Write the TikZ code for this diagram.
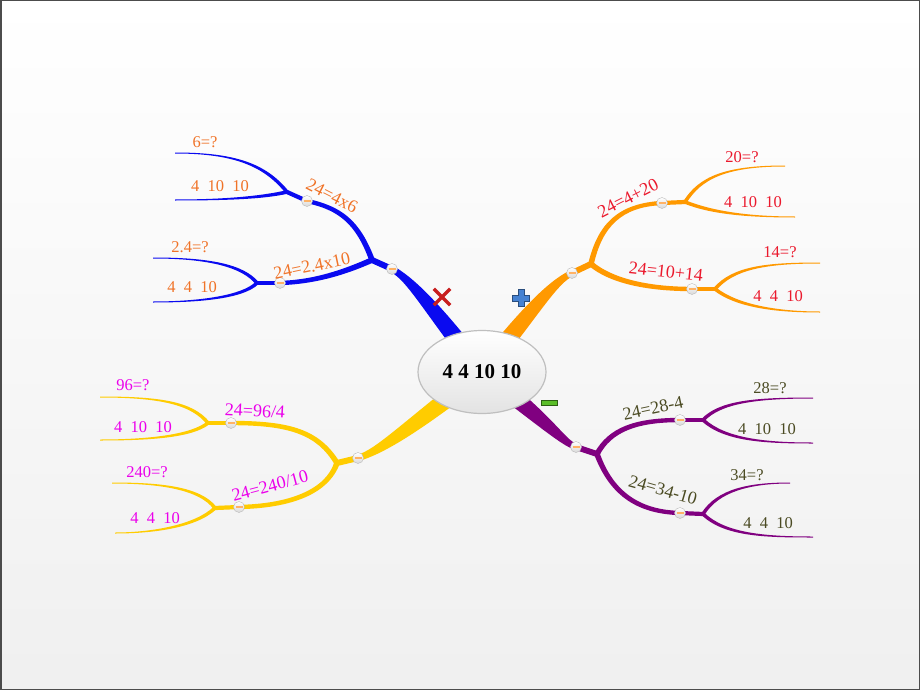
\documentclass[tikz,border=0pt]{standalone}
\usepackage{fontspec}
\setmainfont{Liberation Serif}
\usetikzlibrary{calc,shapes.geometric}

\definecolor{mmblue}{RGB}{10,10,240}
\definecolor{mmorange}{RGB}{255,153,0}
\definecolor{mmyellow}{RGB}{255,204,0}
\definecolor{mmpurple}{RGB}{128,0,128}
\definecolor{txtbrown}{RGB}{240,115,40}
\definecolor{txtred}{RGB}{235,25,45}
\definecolor{txtpink}{RGB}{235,0,235}
\definecolor{txtolive}{RGB}{75,75,35}
\definecolor{timesred}{RGB}{200,30,30}
\definecolor{plusblue}{RGB}{70,130,210}
\definecolor{minusgreen}{RGB}{90,190,40}

\newcommand{\taper}[7]{%
  \fill[#1] ($(#2)!#6!90:(#3)$) .. controls ($(#3)!#6!90:(#4)$) and ($(#4)!#7!-90:(#3)$) .. ($(#5)!#7!-90:(#4)$)
    -- ($(#5)!#7!90:(#4)$) .. controls ($(#4)!#7!90:(#3)$) and ($(#3)!#6!-90:(#4)$) .. ($(#2)!#6!-90:(#3)$) -- cycle;}

\begin{document}
\begin{tikzpicture}[x=1pt,y=-1pt,
  hub/.style={ellipse,draw=gray!50,line width=1.2pt,minimum width=128pt,minimum height=83pt,
    inner sep=0pt,top color=white,bottom color=gray!22,font=\fontsize{21}{24}\selectfont\bfseries},
  knob/.style={circle,draw=gray!55,inner sep=0pt,minimum size=11pt,top color=white,bottom color=gray!30,
    path picture={\draw[orange!60,line width=1.3pt] ([xshift=-3.5pt]path picture bounding box.center)
      -- ([xshift=3.5pt]path picture bounding box.center);}},
  eqn/.style={font=\fontsize{18}{20}\selectfont,inner sep=1pt},
  leaf/.style={font=\fontsize{16.5}{18}\selectfont,inner sep=1pt}]
  \useasboundingbox (0,0) rectangle (920,690);
  \shade[top color=white,middle color=gray!4,bottom color=gray!12] (0,0) rectangle (920,690);
  \draw[black!70,line width=1.5pt] (0.75,0.75) rectangle (919.25,689.25);

  \coordinate (ctr) at (482,372);
  \foreach \n/\x/\y in {fb/372/260, fb1/287/192, fb2/257/283, fo/591/264, fo1/685/202, fo2/715/289,
      fy/337/463, fy1/208/423, fy2/215/508, fp/597/454, fp1/703/420, fp2/703/514,
      mb/392/269, mb1/307/201, mb2/280/283, mo/572/273, mo1/662/203, mo2/692/289,
      my/358/458, my1/231/423, my2/239/507, mp/576/447, mp1/680/420, mp2/680/513,
      lb1/175/153, lb2/175/200, lb3/153/258, lb4/153/302, lo1/785/166, lo2/795/217, lo3/820/263, lo4/820/312,
      ly1/100/397, ly2/100/440, ly3/112/483, ly4/115/533, lp1/813/398, lp2/813/443, lp3/790/483, lp4/813/537}
    \coordinate (\n) at (\x,\y);

  \foreach \c/\f/\ax/\ay/\bx/\by/\e in {
      mmblue/fb1/265/165/235/153/lb1, mmblue/fb1/265/197/230/200/lb2,
      mmblue/fb2/243/266/210/258/lb3, mmblue/fb2/243/297/200/302/lb4,
      mmorange/fo1/700/178/725/166/lo1, mmorange/fo1/710/212/745/217/lo2,
      mmorange/fo2/733/268/765/263/lo3, mmorange/fo2/738/307/780/312/lo4,
      mmyellow/fy1/192/403/160/397/ly1, mmyellow/fy1/192/436/150/440/ly2,
      mmyellow/fy2/200/488/160/483/ly3, mmyellow/fy2/195/527/150/533/ly4,
      mmpurple/fp1/720/402/755/398/lp1, mmpurple/fp1/725/440/765/443/lp2,
      mmpurple/fp2/718/490/750/483/lp3, mmpurple/fp2/725/535/765/537/lp4}
    \taper{\c}{\f}{\ax,\ay}{\bx,\by}{\e}{1.8pt}{0.5pt};

  \foreach \c/\f/\ax/\ay/\bx/\by/\e/\g in {
      mmblue/fb/358/222/340/208/mb1/fb1, mmblue/fb/345/272/315/282/mb2/fb2,
      mmorange/fo/600/225/620/205/mo1/fo1, mmorange/fo/610/280/645/289/mo2/fo2,
      mmyellow/fy/318/432/290/423/my1/fy1, mmyellow/fy/327/492/290/506/my2/fy2,
      mmpurple/fp/610/430/635/420/mp1/fp1, mmpurple/fp/612/495/640/512/mp2/fp2} {
    \taper{\c}{\f}{\ax,\ay}{\bx,\by}{\e}{2.8pt}{2.2pt}
    \draw[\c,line width=4.2pt] (\e) -- (\g);
  }

  \foreach \c/\m/\f/\ax/\ay/\bx/\by in {mmblue/mb/fb/410/279/430/305, mmorange/mo/fo/555/281/535/305,
      mmyellow/my/fy/378/452/405/432, mmpurple/mp/fp/562/442/548/422} {
    \draw[\c,line width=6pt] (\m) -- (\f);
    \taper{\c}{\m}{\ax,\ay}{\bx,\by}{ctr}{3.2pt}{9pt}
  }

  \foreach \n in {mb,mb1,mb2,mo,mo1,mo2,my,my1,my2,mp,mp1,mp2}
    \node[knob] (k\n) at (\n) {};

  \node[hub] (hub) at (ctr) {4 4 10 10};

  \foreach \n/\c/\x/\y/\r/\t in {
      eb1/txtbrown/332/196/-27/24=4x6, eb2/txtbrown/312/266/12/24=2.4x10,
      eo1/txtred/628/198/27/24=4+20, eo2/txtred/666/272/-6/24=10+14,
      ey1/txtpink/255/411/-3/{24=96/4}, ey2/txtpink/270/486/15/{24=240/10},
      ep1/txtolive/653/408/12/24=28-4, ep2/txtolive/663/490/-16/24=34-10}
    \node[eqn,text=\c,rotate=\r] (\n) at (\x,\y) {\t};

  \foreach \n/\c/\x/\y/\t in {
      qb1/txtbrown/205/142/6=?, qb2/txtbrown/220/186/4\ \ 10\ \ 10,
      qb3/txtbrown/190/247/2.4=?, qb4/txtbrown/192/287/4\ \ 4\ \ 10,
      qo1/txtred/742/157/20=?, qo2/txtred/753/202/4\ \ 10\ \ 10,
      qo3/txtred/780/252/14=?, qo4/txtred/778/296/4\ \ 4\ \ 10,
      qy1/txtpink/133/385/96=?, qy2/txtpink/143/427/4\ \ 10\ \ 10,
      qy3/txtpink/147/472/240=?, qy4/txtpink/155/518/4\ \ 4\ \ 10,
      qp1/txtolive/770/388/28=?, qp2/txtolive/767/429/4\ \ 10\ \ 10,
      qp3/txtolive/747/475/34=?, qp4/txtolive/768/523/4\ \ 4\ \ 10}
    \node[leaf,text=\c] (\n) at (\x,\y) {\t};

  \node[minimum size=16pt,inner sep=0pt] (times) at (442,297) {};
  \draw[timesred,line width=3.5pt] (times.north west) -- (times.south east)
    (times.north east) -- (times.south west);
  \node[minimum size=17pt,inner sep=0pt] (plus) at (521,298) {};
  \draw[shift={(plus)},fill=plusblue,draw=plusblue!60!black,line width=0.6pt]
    (-8.5,-2.8) -- (-2.8,-2.8) -- (-2.8,-8.5) -- (2.8,-8.5) -- (2.8,-2.8) -- (8.5,-2.8)
    -- (8.5,2.8) -- (2.8,2.8) -- (2.8,8.5) -- (-2.8,8.5) -- (-2.8,2.8) -- (-8.5,2.8) -- cycle;
  \node[draw=minusgreen!50!black,fill=minusgreen,minimum width=16pt,minimum height=5pt,
    inner sep=0pt] (minus) at (549,403) {};
\end{tikzpicture}
\end{document}
